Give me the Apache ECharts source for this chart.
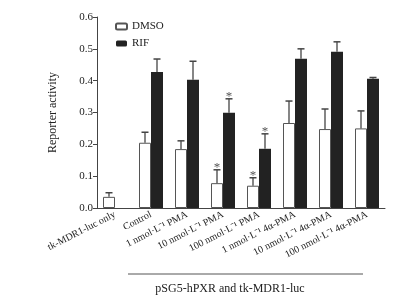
<!DOCTYPE html>
<html>
<head>
<meta charset="utf-8">
<script src="https://cdn.jsdelivr.net/npm/echarts@6/dist/echarts.min.js"></script>
<style>
  html, body { margin: 0; padding: 0; background: #fff; }
  #chart { width: 394px; height: 302px; }
</style>
</head>
<body>
<div id="chart"></div>
<script>
const categories = [
  'tk-MDR1-luc only',
  'Control',
  '1 nmol·L⁻¹ PMA',
  '10 nmol·L⁻¹ PMA',
  '100 nmol·L⁻¹ PMA',
  '1 nmol·L⁻¹ 4α-PMA',
  '10 nmol·L⁻¹ 4α-PMA',
  '100 nmol·L⁻¹ 4α-PMA'
];
const dmsoValues = [0.035, 0.205, 0.185, 0.078, 0.070, 0.267, 0.248, 0.250];
const dmsoErrTop = [0.048, 0.238, 0.211, 0.120, 0.095, 0.336, 0.311, 0.305];
const dmsoStar = [false, false, false, true, true, false, false, false];
const rifValues = [null, 0.427, 0.403, 0.299, 0.186, 0.469, 0.491, 0.406];
const rifErrTop = [null, 0.468, 0.461, 0.343, 0.233, 0.500, 0.522, 0.410];
const rifStar = [false, false, false, true, true, false, false, false];
const yTicks = [0, 0.1, 0.2, 0.3, 0.4, 0.5, 0.6];

const serif = '"Liberation Serif", "Times New Roman", serif';
const chart = echarts.init(document.getElementById('chart'));

const BAR_W = 12;

// upper error bar + optional asterisk, shifted to sit over its bar
function errorRenderer(offset, stars) {
  return function (params, api) {
    const idx = api.value(0);
    const top = api.value(1);
    const base = api.value(2);
    if (top == null || isNaN(top)) return;
    const p0 = api.coord([idx, base]);
    const p1 = api.coord([idx, top]);
    const x = p0[0] + offset;
    const children = [
      { type: 'line', shape: { x1: x, y1: p0[1], x2: x, y2: p1[1] }, style: { stroke: '#444', lineWidth: 1.3 } },
      { type: 'line', shape: { x1: x - 3.5, y1: p1[1], x2: x + 3.5, y2: p1[1] }, style: { stroke: '#444', lineWidth: 1.5 } }
    ];
    if (stars[idx]) {
      children.push({
        type: 'text',
        style: { text: '*', x: x, y: p1[1] + 4, align: 'center', verticalAlign: 'bottom', fontSize: 13, fontFamily: serif, fill: '#555' }
      });
    }
    return { type: 'group', children: children };
  };
}

const option = {
  backgroundColor: '#fff',
  animation: false,
  textStyle: { fontFamily: serif },
  grid: { left: 97, right: 9, top: 17, bottom: 94 },
  legend: {
    orient: 'vertical',
    left: 110,
    top: 16,
    itemWidth: 11,
    itemHeight: 6,
    itemGap: 6,
    data: ['DMSO', 'RIF'],
    textStyle: { fontFamily: serif, fontSize: 11, color: '#222' }
  },
  xAxis: {
    type: 'category',
    data: categories,
    axisLine: { lineStyle: { color: '#444', width: 1 } },
    axisTick: { alignWithLabel: true, length: 4, lineStyle: { color: '#444' } },
    axisLabel: { rotate: 27, interval: 0, fontSize: 10, fontFamily: serif, color: '#222', margin: 6 }
  },
  yAxis: {
    type: 'value',
    min: 0,
    max: 0.6,
    interval: 0.1,
    name: 'Reporter activity',
    nameLocation: 'middle',
    nameGap: 38,
    nameTextStyle: { fontFamily: serif, fontSize: 12, color: '#222' },
    axisLine: { show: true, lineStyle: { color: '#444', width: 1 } },
    axisTick: { show: true, length: 4, lineStyle: { color: '#444' } },
    axisLabel: { fontSize: 11, fontFamily: serif, color: '#222', margin: 4, formatter: v => v.toFixed(1) },
    splitLine: { show: false }
  },
  graphic: [
    { type: 'line', shape: { x1: 128, y1: 274, x2: 363, y2: 274 }, style: { stroke: '#555', lineWidth: 1 } },
    { type: 'text', x: 230, y: 283, style: { text: 'pSG5-hPXR and tk-MDR1-luc', align: 'center', fontSize: 12, fontFamily: serif, fill: '#222' } }
  ],
  series: [
    {
      name: 'DMSO',
      type: 'bar',
      barWidth: BAR_W,
      barGap: '0%',
      data: dmsoValues,
      itemStyle: { color: '#fff', borderColor: '#555', borderWidth: 1 }
    },
    {
      name: 'RIF',
      type: 'bar',
      barWidth: BAR_W,
      barGap: '0%',
      data: rifValues.map(v => (v == null ? '-' : v)),
      itemStyle: { color: '#222', borderColor: '#222', borderWidth: 0 }
    },
    {
      type: 'custom',
      renderItem: errorRenderer(-BAR_W / 2, dmsoStar),
      data: dmsoValues.map((v, i) => [i, dmsoErrTop[i], v]),
      encode: { x: 0, y: 1 },
      z: 3
    },
    {
      type: 'custom',
      renderItem: errorRenderer(BAR_W / 2, rifStar),
      data: rifValues.map((v, i) => [i, rifErrTop[i] == null ? NaN : rifErrTop[i], v == null ? 0 : v]),
      encode: { x: 0, y: 1 },
      z: 3
    }
  ]
};

chart.setOption(option);
</script>
</body>
</html>
